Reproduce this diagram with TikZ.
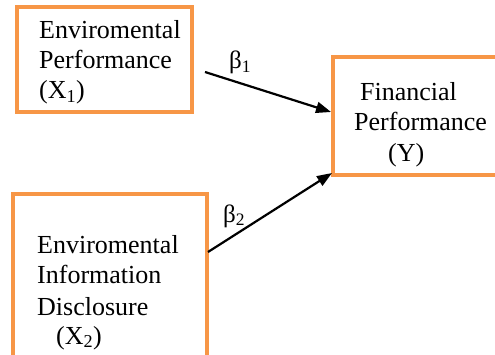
\documentclass[tikz,border=0pt]{standalone}
\usepackage{fontspec}
\setmainfont{Liberation Serif}
\usetikzlibrary{arrows.meta}
\definecolor{boxorange}{HTML}{F79646}
\begin{document}
\begin{tikzpicture}[x=1pt,y=1pt,
  box/.style={draw=boxorange,line width=4pt,rectangle,inner sep=0pt},
  txt/.style={anchor=base west,inner sep=0pt,font=\fontsize{26}{30}\selectfont},
  beta/.style={anchor=base west,inner sep=0pt,font=\fontsize{25}{30}\selectfont},
  arr/.style={line width=2.2pt,-{Triangle[length=15pt,width=11pt]}}]
\useasboundingbox (0,0) rectangle (495,354);
\clip (0,0) rectangle (495,354);
% boxes
\node[box,minimum width=175pt,minimum height=105pt] (b1) at (104.5,294.5) {};
\node[box,minimum width=167pt,minimum height=118pt] (by) at (416.5,238) {};
\node[box,minimum width=194pt,minimum height=166pt] (b2) at (110,77) {};
% texts box 1
\node[txt] (t1a) at (39,315) {Enviromental};
\node[txt] (t1b) at (39,285) {Performance};
\node[txt] (t1c) at (39,255) {(X\textsubscript{1})};
% texts box Y
\node[txt] (tya) at (360,253) {Financial};
\node[txt] (tyb) at (354,223) {Performance};
\node[txt] (tyc) at (388,193) {(Y)};
% texts box 2
\node[txt] (t2a) at (37,101) {Enviromental};
\node[txt] (t2b) at (37,71) {Information};
\node[txt] (t2c) at (37,39) {Disclosure};
\node[txt] (t2d) at (56,10) {(X\textsubscript{2})};
% betas
\node[beta] (beta1) at (229,285) {β\textsubscript{1}};
\node[beta] (beta2) at (223,132) {β\textsubscript{2}};
% connectors
\coordinate (s1) at (205,282);
\coordinate (e1) at (331,242);
\coordinate (s2) at (208,102);
\coordinate (e2) at (332,181);
\draw[arr] (s1) -- (e1);
\draw[arr] (s2) -- (e2);
\end{tikzpicture}
\end{document}
